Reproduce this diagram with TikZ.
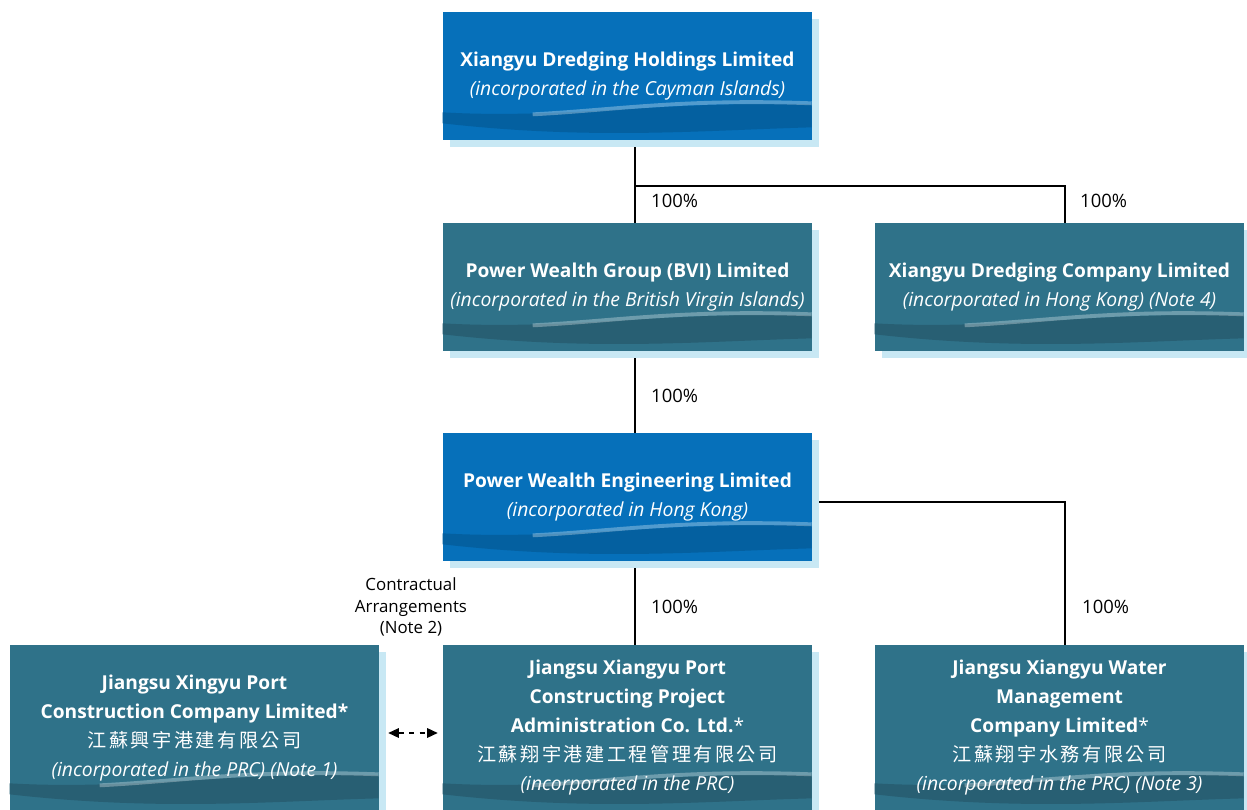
\documentclass[tikz,border=0pt]{standalone}
\usepackage{fontspec}
\setmainfont{Open Sans}
\newfontfamily\cjk[LetterSpace=13]{Noto Sans CJK TC}
\usetikzlibrary{arrows.meta,backgrounds}
\definecolor{holdblue}{RGB}{6,112,186}
\definecolor{holddark}{RGB}{4,96,160}
\definecolor{subteal}{RGB}{47,114,137}
\definecolor{subdark}{RGB}{40,95,115}
\definecolor{shadowblue}{RGB}{200,232,244}
\newcommand\incorp[1]{{\fontsize{11}{16.5}\selectfont\itshape #1}}
\tikzset{
  entity/.style={text=white, align=center, inner sep=0pt,
    minimum width=7.38cm, minimum height=2.56cm,
    font=\fontsize{10.9}{16.5}\selectfont},
  pairline/.style={execute at begin node={\rule{0pt}{13.5pt}}},
  tallbox/.style={minimum height=3.32cm},
  share/.style={anchor=west, font=\fontsize{10.5}{12}\selectfont},
  link/.style={line width=0.6pt},
  contract/.style={dashed, line width=0.6pt,
    arrows={Triangle[length=6pt,width=5.5pt]-Triangle[length=6pt,width=5.5pt]},
    shorten <=0.18cm, shorten >=0.1cm}
}
\begin{document}
\begin{tikzpicture}[x=0.02cm, y=-0.02cm]
\useasboundingbox (0,0) rectangle (1247,810);

\node[entity, pairline] (xdhl) at (627.5,76) {\textbf{Xiangyu Dredging Holdings Limited}\\\incorp{(incorporated in the Cayman Islands)}};
\node[entity, pairline] (pwg) at (627.5,287) {\textbf{Power Wealth Group (BVI) Limited}\\\incorp{(incorporated in the British Virgin Islands)}};
\node[entity, pairline] (xdc) at (1059.5,287) {\textbf{Xiangyu Dredging Company Limited}\\\incorp{(incorporated in Hong Kong) (Note 4)}};
\node[entity, pairline] (pwe) at (627.5,497) {\textbf{Power Wealth Engineering Limited}\\\incorp{(incorporated in Hong Kong)}};
\node[entity, tallbox] (jxp) at (194.5,728) {\textbf{Jiangsu Xingyu Port}\\\textbf{Construction Company Limited*}\\{\cjk 江蘇興宇港建有限公司}\\\incorp{(incorporated in the PRC) (Note 1)}};
\node[entity, tallbox] (jxpc) at (627.5,728) {\textbf{Jiangsu Xiangyu Port}\\\textbf{Constructing Project}\\\textbf{Administration Co. Ltd.}*\\{\cjk 江蘇翔宇港建工程管理有限公司}\\\incorp{(incorporated in the PRC)}};
\node[entity, tallbox] (jxw) at (1059.5,728) {\textbf{Jiangsu Xiangyu Water}\\\textbf{Management}\\\textbf{Company Limited}*\\{\cjk 江蘇翔宇水務有限公司}\\\incorp{(incorporated in the PRC) (Note 3)}};

% junctions
\coordinate (j1) at (635,186);
\coordinate (j2) at (1065,186);
\coordinate (j3) at (635,420);
\coordinate (j4) at (1065,502);

\begin{scope}[on background layer]
\draw[link] (xdhl.south -| j1) -- (j1) -- (pwg.north -| j1);
\draw[link] (j1) -- (j2) -- (xdc.north -| j2);
\draw[link] (pwg.south -| j3) -- (pwe.north -| j3);
\draw[link] (pwe.south -| j3) -- (jxpc.north -| j3);
\draw[link] (pwe.east |- j4) -- (j4) -- (jxw.north -| j4);
% boxes, shadows and waves
\foreach \n/\c/\d in {xdhl/holdblue/holddark, pwg/subteal/subdark, xdc/subteal/subdark,
    pwe/holdblue/holddark, jxp/subteal/subdark, jxpc/subteal/subdark, jxw/subteal/subdark}{
  \fill[shadowblue] ([shift={(7,7)}]\n.south west) rectangle ([shift={(7,7)}]\n.north east);
  \fill[\c] (\n.south west) rectangle (\n.north east);
  \begin{scope}[shift={(\n.south west)}]
    \fill[\d] (0,-28) .. controls (120,-21) and (230,-40) .. (369,-36)
      -- (369,-13) .. controls (260,-10) and (150,0) .. (0,-17) -- cycle;
    \draw[white, opacity=0.3, line width=2.2pt]
      (90,-26) .. controls (170,-30) and (240,-42) .. (369,-37);
  \end{scope}
}
\end{scope}

\node[share] (p1) at (645,201) {100\%};
\node[share] (p2) at (1074,201) {100\%};
\node[share] (p3) at (645,396) {100\%};
\node[share] (p4) at (645,607) {100\%};
\node[share] (p5) at (1076,607) {100\%};
\node[align=center, font=\fontsize{9.6}{12}\selectfont] (ca) at (411,607) {Contractual\\Arrangements\\(Note 2)};

\draw[contract] ([yshift=-0.1cm]jxp.east) -- ([yshift=-0.1cm]jxpc.west);
\end{tikzpicture}
\end{document}
